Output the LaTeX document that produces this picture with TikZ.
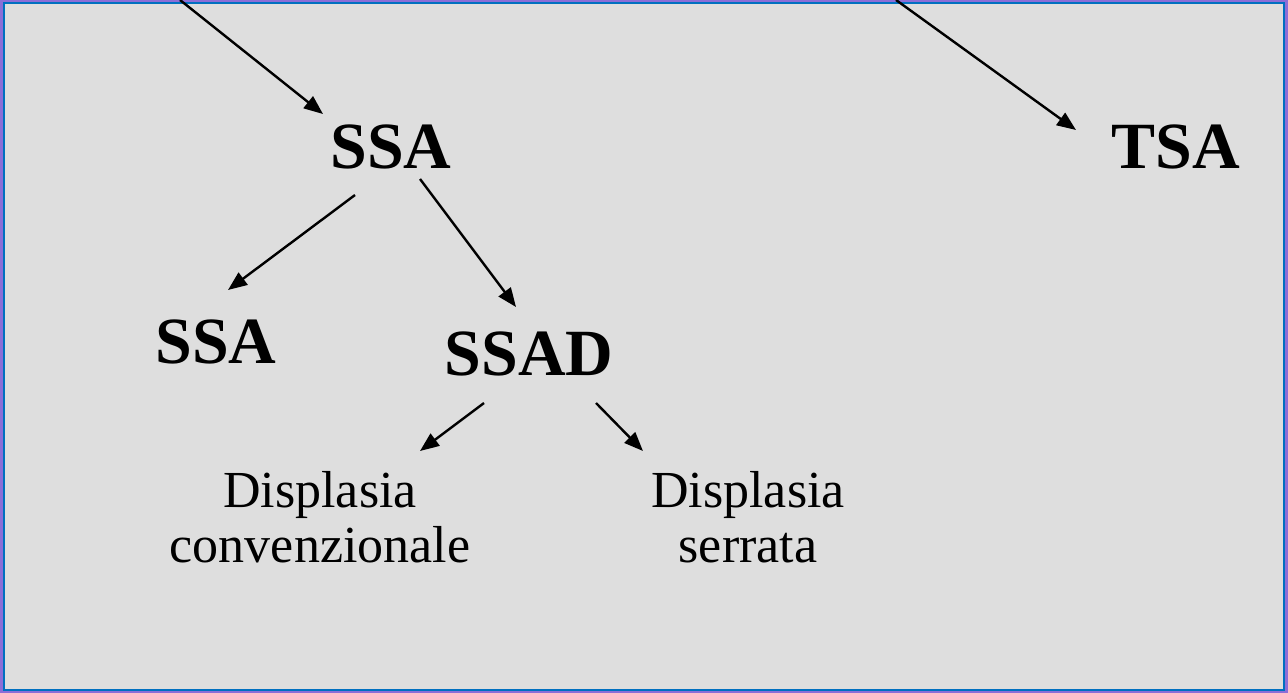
\documentclass[tikz,border=0pt]{standalone}
\usepackage{fontspec}
\setmainfont{Liberation Serif}
\usetikzlibrary{arrows.meta}
\definecolor{bggray}{RGB}{222,222,222}
\definecolor{frameblue}{RGB}{0,112,192}
\definecolor{outerpurple}{RGB}{140,110,215}
\begin{document}
\begin{tikzpicture}[x=1pt,y=-1pt,
  big/.style={font=\fontsize{66}{79}\selectfont\bfseries, inner sep=0pt, anchor=base},
  small/.style={font=\fontsize{52}{55}\selectfont, inner sep=0pt, align=center, anchor=base},
  arr/.style={-{Triangle[length=19pt,width=15pt]}, line width=2.4pt, draw=black}]
\useasboundingbox (0,0) rectangle (1288,693);
\fill[outerpurple] (0,0) rectangle (1288,693);
\draw[fill=bggray, draw=frameblue, line width=2pt] (4,3.5) rectangle (1283.5,690);
\node[big] (ssa1) at (391,168) {SSA};
\node[big] (tsa) at (1176,168) {TSA};
\node[big] (ssa2) at (216,363) {SSA};
\node[big] (ssad) at (529,375) {SSAD};
\node[small] (dconv) at (320,562) {Displasia\\convenzionale};
\node[small] (dserr) at (748,562) {Displasia\\serrata};
\coordinate (topL) at (180,0);
\coordinate (topR) at (896,0);
\draw[arr] (topL) -- ([shift={(-68,-54)}]ssa1.base);
\draw[arr] (topR) -- ([shift={(-100,-38)}]tsa.base);
\draw[arr] ([shift={(-36,27)}]ssa1.base) -- ([shift={(12,-73)}]ssa2.base);
\draw[arr] ([shift={(29,11)}]ssa1.base) -- ([shift={(-13,-68)}]ssad.base);
\draw[arr] ([shift={(-45,28)}]ssad.base) -- ([shift={(100,-111)}]dconv.base);
\draw[arr] ([shift={(67,28)}]ssad.base) -- ([shift={(-105,-111)}]dserr.base);
\end{tikzpicture}
\end{document}
